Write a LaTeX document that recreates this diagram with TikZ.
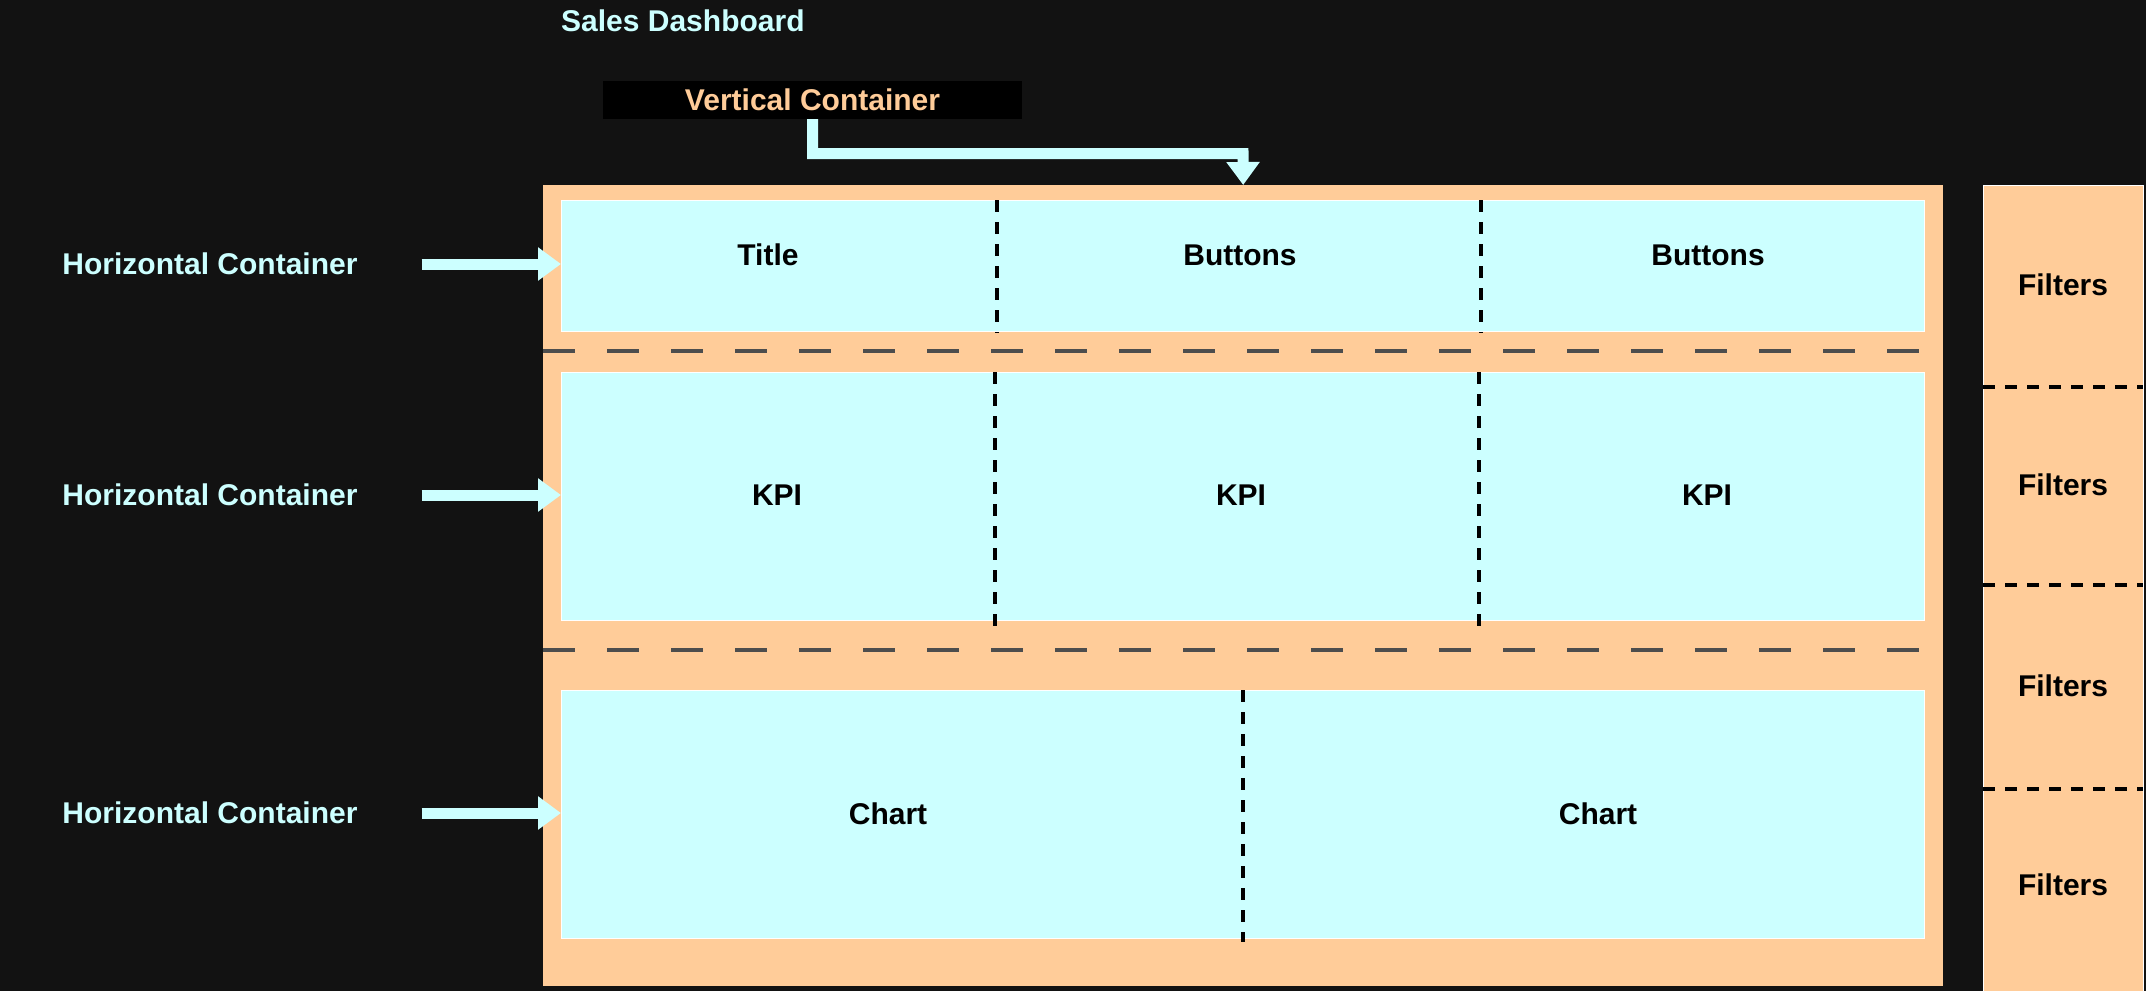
\documentclass[tikz,border=0pt]{standalone}
\usepackage{fontspec}
\setmainfont{Liberation Sans}
\usetikzlibrary{arrows.meta,positioning,calc}

\definecolor{bgdark}{HTML}{121212}
\definecolor{peach}{HTML}{FFCC99}
\definecolor{paleblue}{HTML}{CCFFFF}
\definecolor{dashgray}{HTML}{4D4D4D}

\tikzset{
	lbl/.style={font=\fontsize{30}{36}\selectfont\bfseries, inner sep=0pt},
	rowbox/.style={draw=white, line width=1pt, fill=paleblue, anchor=north west, inner sep=0pt, minimum width=1363pt},
	bigarrow/.style={draw=paleblue, line width=11pt, -{Triangle[length=23pt,width=32pt]}},
	rowsep/.style={draw=dashgray, line width=4.3pt, dash pattern=on 32pt off 32pt},
	cellsep/.style={draw=black, line width=3.5pt, dash pattern=on 12pt off 10pt},
}

\begin{document}
\begin{tikzpicture}[x=1pt,y=-1pt]

	\fill[bgdark] (0,0) rectangle (2146,991);
	\useasboundingbox (0,0) rectangle (2146,991);

	\node[fill=peach, anchor=north west, inner sep=0pt, minimum width=1400pt, minimum height=801pt] (outer) at (543,185) {};
	\node[fill=peach, draw=white, line width=1pt, anchor=north west, inner sep=0pt, minimum width=160pt, minimum height=806pt] (filters) at (1983,185) {};

	\node[rowbox, minimum height=131pt] (row1) at (561,200) {};
	\node[rowbox, minimum height=248pt] (row2) at (561,372) {};
	\node[rowbox, minimum height=248pt] (row3) at (561,690) {};

	\node[lbl, text=paleblue, anchor=west] (dash) at (561,21) {Sales Dashboard};
	\node[lbl, text=peach, fill=black, minimum width=419pt, minimum height=38pt] (vc) at (812.5,100) {Vertical Container};

	\node[lbl, text=paleblue] (hc1) at (210,264) {Horizontal Container};
	\node[lbl, text=paleblue] (hc2) at (210,495) {Horizontal Container};
	\node[lbl, text=paleblue] (hc3) at (210,813) {Horizontal Container};

	\node[lbl] (title)    at (768,255)  {Title};
	\node[lbl] (buttons1) at (1240,255) {Buttons};
	\node[lbl] (buttons2) at (1708,255) {Buttons};
	\node[lbl] (kpi1)     at (777,495)  {KPI};
	\node[lbl] (kpi2)     at (1241,495) {KPI};
	\node[lbl] (kpi3)     at (1707,495) {KPI};
	\node[lbl] (chart1)   at (888,814)  {Chart};
	\node[lbl] (chart2)   at (1598,814) {Chart};

	\node[lbl] (filter1) at (2063,285) {Filters};
	\node[lbl] (filter2) at (2063,485) {Filters};
	\node[lbl] (filter3) at (2063,686) {Filters};
	\node[lbl] (filter4) at (2063,885) {Filters};

	\draw[rowsep] (543,351) -- (1919,351);
	\draw[rowsep] (543,650) -- (1919,650);

	\draw[cellsep] (997,200) -- (997,333);
	\draw[cellsep] (1481,200) -- (1481,333);
	\draw[cellsep] (995,372) -- (995,627);
	\draw[cellsep] (1479,372) -- (1479,627);
	\draw[cellsep] (1243,690) -- (1243,942);

	\draw[cellsep] (1983,387) -- (2143,387);
	\draw[cellsep] (1983,585) -- (2143,585);
	\draw[cellsep] (1983,789) -- (2143,789);

	\coordinate (knee) at (1243,153.5);
	\draw[bigarrow] (vc.south) |- (knee) -- (outer.north);

	\draw[bigarrow] ([xshift=64pt]hc1.east) -- (hc1.east -| row1.west);
	\draw[bigarrow] ([xshift=64pt]hc2.east) -- (hc2.east -| row2.west);
	\draw[bigarrow] ([xshift=64pt]hc3.east) -- (hc3.east -| row3.west);

\end{tikzpicture}
\end{document}
